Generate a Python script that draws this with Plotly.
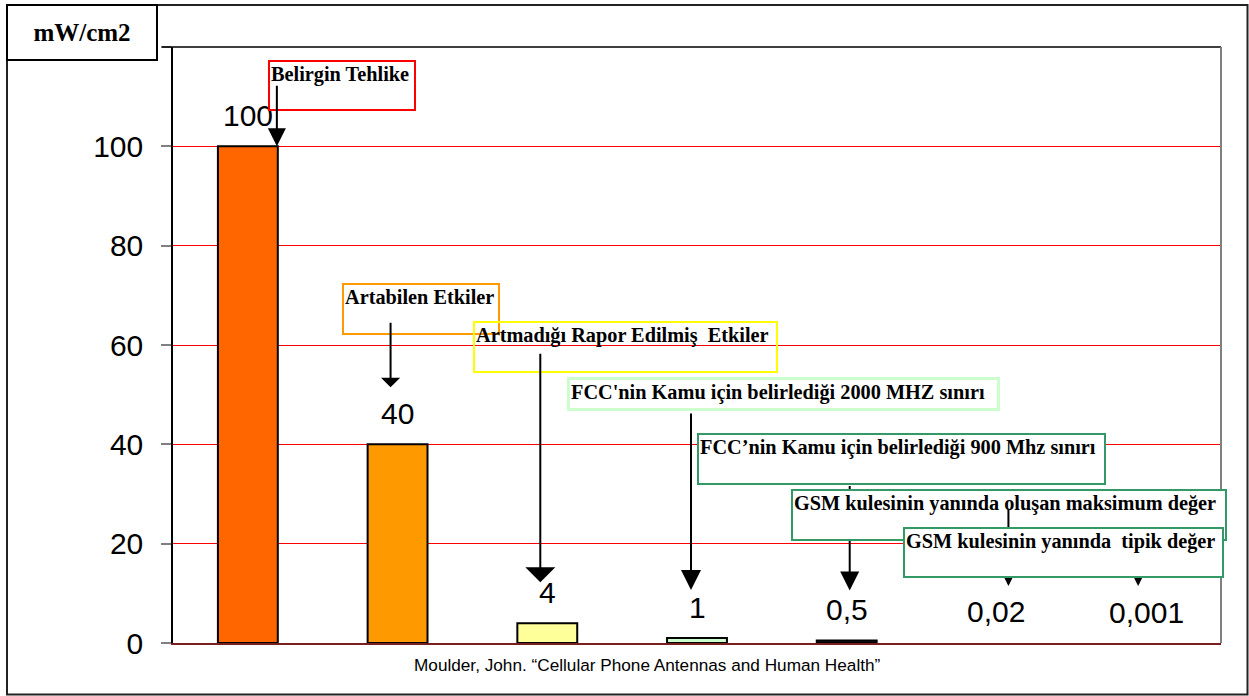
import plotly.graph_objects as go

# ---- data -------------------------------------------------------------
categories = [
    "Belirgin Tehlike",
    "Artabilen Etkiler",
    "Artmadığı Rapor Edilmiş  Etkiler",
    "FCC'nin Kamu için belirlediği 2000 MHZ sınırı",
    "FCC’nin Kamu için belirlediği 900 Mhz sınırı",
    "GSM kulesinin yanında oluşan maksimum değer",
    "GSM kulesinin yanında  tipik değer",
]
values = [100, 40, 4, 1, 0.5, 0.02, 0.001]
bar_colors = ["#FF6600", "#FF9900", "#FFFF99", "#CCFFCC", "#1a1a1a",
              "rgba(0,0,0,0)", "rgba(0,0,0,0)"]
bar_edges = [2, 2, 2, 2, 2, 0, 0]
y_ticks = [0, 20, 40, 60, 80, 100, 120]
y_tick_text = ["0", "20", "40", "60", "80", "100", ""]
unit_label = "mW/cm2"
source_note = "Moulder, John. “Cellular Phone Antennas and Human Health”"

# values printed with a decimal comma
value_labels = [f"{v:g}".replace(".", ",") for v in values]

# ---- page geometry (pixels) -------------------------------------------
W, H = 1249, 696
ML, MR, MT, MB = 173, 28, 47, 53
PW, PH = W - ML - MR, H - MT - MB


def px_x(px):
    return (px - ML) / PW


def px_y(py):
    return (H - MB - py) / PH


SERIF = "Liberation Serif, Times New Roman, serif"
SANS = "Liberation Sans, Arial, sans-serif"

fig = go.Figure(
    go.Bar(
        x=list(range(len(values))),
        y=values,
        width=0.4,
        marker=dict(color=bar_colors, line=dict(color="black", width=bar_edges)),
        hovertext=categories,
        showlegend=False,
    )
)

annotations = []

# value labels above each bar
for i, (v, lab) in enumerate(zip(values, value_labels)):
    annotations.append(dict(
        x=i, y=v, xref="x", yref="y", text=lab, showarrow=False,
        yanchor="middle", xanchor="center", yshift=31,
        font=dict(family=SANS, size=30, color="black"),
    ))


def callout(text, box, color, bw=2, fill="white", pad=1):
    x0, y0, x1, y1 = box
    return dict(
        text=text, showarrow=False, xref="paper", yref="paper",
        x=px_x(x0 - bw / 2), y=px_y(y0 - bw / 2),
        xanchor="left", yanchor="top", align="left", valign="top",
        width=x1 - x0 - bw - 2 * pad, height=y1 - y0 - bw - 2 * pad,
        bordercolor=color, borderwidth=bw, borderpad=pad, bgcolor=fill,
        font=dict(family=SERIF, size=20.3, color="black", weight="bold"),
    )


def pointer(i, dx, dy, tail, head, size):
    # arrow whose tip sits dy pixels above the top of bar i
    return dict(
        x=i, y=values[i], xref="x", yref="y", text="", showarrow=True,
        xshift=dx, yshift=dy, ax=0, ay=tail, axref="pixel", ayref="pixel",
        arrowhead=head, arrowsize=size, arrowwidth=2, arrowcolor="black",
        font=dict(size=1),
    )


boxes = [
    callout(categories[0], (269, 61, 415, 110), "#FF0000"),
    callout(categories[1], (343, 284, 499, 334), "#FF9900"),
    callout(categories[2], (474, 322, 777, 372), "#FFFF00", fill="rgba(0,0,0,0)"),
    callout(categories[3], (568, 378, 998, 409), "#CCFFCC", bw=3),
    callout(categories[4], (698, 434, 1105, 484), "#339966"),
    callout(categories[5], (792, 490, 1226, 540), "#339966"),
    callout(categories[6], (904, 528, 1223, 577), "#339966"),
]
arrows = [
    pointer(0, 29, 0, -62, 2, 1.8),
    pointer(1, -7, 57, -66, 1, 1.6),
    pointer(2, -7, 41, -230, 1, 2.5),
    pointer(3, -6, 48, -178, 2, 2.0),
    pointer(4, 3, 50, -106, 2, 1.9),
    pointer(5, 12, 57, -78, 2, 0.9),
    pointer(6, -8, 57, -31, 2, 0.9),
]

# layering: each box, then its pointer; later boxes cover earlier pointers
annotations += [boxes[0], arrows[0], boxes[1], arrows[1], boxes[2], arrows[2],
                boxes[3], arrows[3], boxes[4], arrows[4], boxes[5], arrows[5],
                arrows[6], boxes[6]]

# unit box in the top-left corner
annotations.append(dict(
    text=unit_label, showarrow=False, xref="paper", yref="paper",
    x=px_x(7 - 1), y=px_y(5 - 1), xanchor="left", yanchor="top",
    width=150 - 2 - 2, height=55 - 2 - 2, align="center", valign="middle",
    bordercolor="black", borderwidth=2, borderpad=1, bgcolor="white",
    font=dict(family=SERIF, size=25, color="black", weight="bold"),
))

# source note under the plot
annotations.append(dict(
    text=source_note, showarrow=False, xref="paper", yref="paper",
    x=px_x(647), y=px_y(665), xanchor="center", yanchor="middle",
    font=dict(family=SANS, size=17.2, color="black"),
))

shapes = [
    # outer frame
    dict(type="rect", xref="paper", yref="paper", layer="below",
         x0=px_x(7), x1=px_x(1247.5), y0=px_y(694.5), y1=px_y(5),
         line=dict(color="#222222", width=2)),
    # plot frame: black top, grey right
    dict(type="line", xref="paper", yref="paper", x0=px_x(162), x1=1, y0=1, y1=1,
         line=dict(color="black", width=1.5)),
    dict(type="line", xref="paper", yref="paper", x0=1, x1=1, y0=0, y1=1,
         line=dict(color="#808080", width=2)),
]

fig.update_layout(
    width=W, height=H,
    margin=dict(l=ML, r=MR, t=MT, b=MB),
    paper_bgcolor="white", plot_bgcolor="white",
    annotations=annotations, shapes=shapes,
    xaxis=dict(range=[-0.5, len(values) - 0.5], showticklabels=False, ticks="",
               showgrid=False, zeroline=False, showline=True,
               linecolor="#7a1f1f", linewidth=1.5, fixedrange=True),
    yaxis=dict(range=[0, 120], tickvals=y_ticks, ticktext=y_tick_text,
               showgrid=True, gridcolor="#FF0000", gridwidth=1, zeroline=False,
               showline=True, linecolor="black", linewidth=1.5,
               ticks="outside", ticklen=10, tickwidth=1.5, tickcolor="#808080",
               ticklabelstandoff=12,
               tickfont=dict(family=SANS, size=30, color="black"), fixedrange=True),
)

fig.write_html("out.html")
